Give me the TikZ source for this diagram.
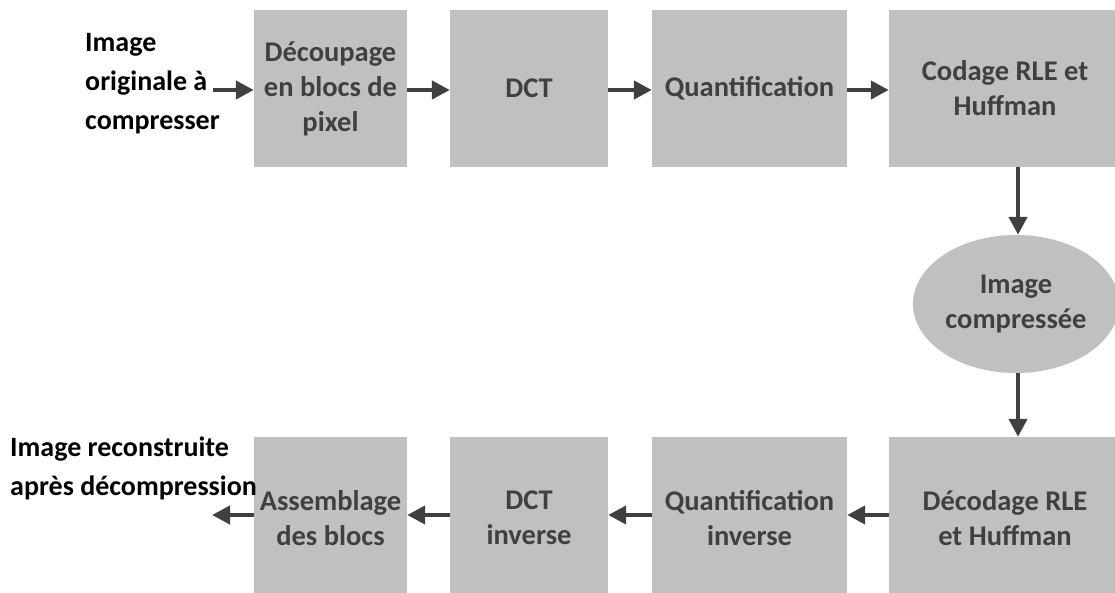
\documentclass[tikz,border=0pt]{standalone}
\usepackage{fontspec}
\setmainfont{Carlito}
\usetikzlibrary{arrows.meta,shapes.geometric}
\definecolor{boxgray}{HTML}{C0C0C0}
\definecolor{ink}{HTML}{404040}
\begin{document}
\begin{tikzpicture}[x=1pt,y=-1pt,
  blk/.style={fill=boxgray,draw=none,inner sep=0pt,text=ink,align=center,
    font=\fontsize{28.5}{35}\selectfont\bfseries},
  lbl/.style={inner sep=0pt,align=left,text=black,
    font=\fontsize{28}{39}\selectfont\bfseries},
  arr/.style={draw=ink,line width=4.2pt,-{Triangle[length=18pt,width=18pt]}}]
\useasboundingbox (0,0) rectangle (1115,593);
% top row
\node[blk,minimum width=153pt,minimum height=157pt] (b1) at (330.5,88.5) {Découpage\\en blocs de\\pixel};
\node[blk,minimum width=158pt,minimum height=157pt] (b2) at (529,88.5) {DCT};
\node[blk,minimum width=195pt,minimum height=157pt] (b3) at (749.5,88.5) {Quantification};
\node[blk,minimum width=232pt,minimum height=157pt] (b4) at (1005,88.5) {Codage RLE et\\Huffman};
% ellipse
\node[blk,ellipse,minimum width=206pt,minimum height=138pt] (e) at (1016,304) {Image\\compressée};
% bottom row
\node[blk,minimum width=232pt,minimum height=162pt] (c4) at (1005,518) {Décodage RLE\\et Huffman};
\node[blk,minimum width=195pt,minimum height=162pt] (c3) at (749.5,518) {Quantification\\inverse};
\node[blk,minimum width=158pt,minimum height=162pt] (c2) at (529,518) {DCT\\inverse};
\node[blk,minimum width=153pt,minimum height=162pt] (c1) at (330.5,518) {Assemblage\\des blocs};
% labels
\node[lbl,anchor=west] (in) at (85,84) {Image\\originale à\\compresser};
\node[lbl,anchor=west] (out) at (10,468) {Image reconstruite\\après décompression};
\coordinate (inS) at (213,90);
\coordinate (outE) at (212,515);
% connectors
\draw[arr] (inS) -- (inS -| b1.west);
\draw[arr] (b1.east |- 0,90) -- (b2.west |- 0,90);
\draw[arr] (b2.east |- 0,90) -- (b3.west |- 0,90);
\draw[arr] (b3.east |- 0,90) -- (b4.west |- 0,90);
\draw[arr] (b4.south -| 1018,0) -- (e.north -| 1018,0);
\draw[arr] (e.south -| 1018,0) -- (c4.north -| 1018,0);
\draw[arr] (c4.west |- 0,515) -- (c3.east |- 0,515);
\draw[arr] (c3.west |- 0,515) -- (c2.east |- 0,515);
\draw[arr] (c2.west |- 0,515) -- (c1.east |- 0,515);
\draw[arr] (c1.west |- 0,515) -- (outE);
\end{tikzpicture}
\end{document}
